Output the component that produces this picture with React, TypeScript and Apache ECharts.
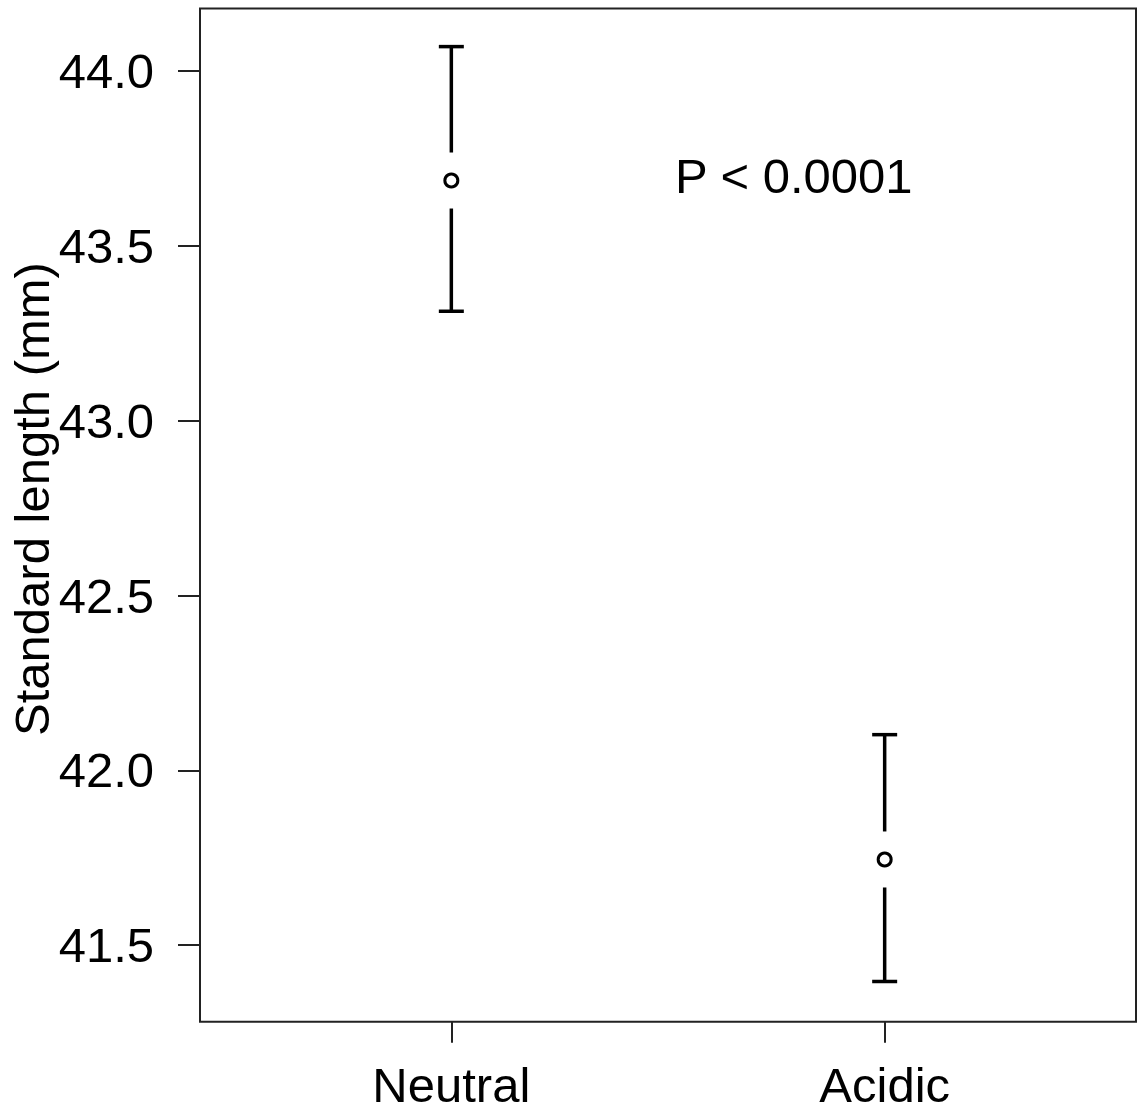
import React, { useEffect, useRef } from "react";
import * as echarts from "echarts";

const categories = ["Neutral", "Acidic"];
const positions = [1, 2];
const means = [43.687, 41.745];
const lowers = [43.313, 41.396];
const uppers = [44.07, 42.102];
const yTicks = [41.5, 42.0, 42.5, 43.0, 43.5, 44.0];
const annotation = "P < 0.0001";
const yTitle = "Standard length (mm)";

const FONT = "'Liberation Sans', Arial, Helvetica, sans-serif";

export default function App() {
  const ref = useRef<HTMLDivElement>(null);
  useEffect(() => {
    if (!ref.current) return;
    const chart = echarts.init(ref.current, undefined, { renderer: "svg" });
    const barData = positions.map((p, i) => [p, means[i], lowers[i], uppers[i]]);
    const meanData = positions.map((p, i) => [p, means[i]]);
    chart.setOption({
      animation: false,
      backgroundColor: "#fff",
      grid: {
        left: 200,
        top: 8.5,
        right: 3,
        bottom: 90.3,
        show: true,
        borderColor: "#222",
        borderWidth: 2,
        backgroundColor: "transparent",
      },
      xAxis: {
        type: "value",
        min: 0.42,
        max: 2.58,
        splitLine: { show: false },
        axisLine: { show: false },
        axisTick: {
          show: true,
          customValues: positions,
          length: 21,
          lineStyle: { color: "#222", width: 2 },
        },
        axisLabel: {
          show: true,
          customValues: positions,
          margin: 39,
          fontSize: 49,
          fontFamily: FONT,
          color: "#000",
          formatter: (v: number) => categories[positions.indexOf(Math.round(v))] ?? "",
        },
      },
      yAxis: {
        type: "value",
        min: 41.281,
        max: 44.179,
        splitLine: { show: false },
        axisLine: { show: false },
        axisTick: {
          show: true,
          customValues: yTicks,
          length: 22,
          lineStyle: { color: "#222", width: 2 },
        },
        axisLabel: {
          show: true,
          customValues: yTicks,
          margin: 46,
          fontSize: 49,
          fontFamily: FONT,
          color: "#000",
          formatter: (v: number) => v.toFixed(1),
        },
      },
      series: [
        {
          type: "custom",
          data: barData,
          renderItem: (params: any, api: any) => {
            const x = api.value(0);
            const m = api.coord([x, api.value(1)]);
            const lo = api.coord([x, api.value(2)]);
            const hi = api.coord([x, api.value(3)]);
            const gap = 28;
            const cap = 12.5;
            const style = { stroke: "#000", lineWidth: 3.5 };
            return {
              type: "group",
              children: [
                { type: "line", shape: { x1: hi[0], y1: hi[1], x2: m[0], y2: m[1] - gap }, style },
                { type: "line", shape: { x1: m[0], y1: m[1] + gap, x2: lo[0], y2: lo[1] }, style },
                { type: "line", shape: { x1: hi[0] - cap, y1: hi[1], x2: hi[0] + cap, y2: hi[1] }, style },
                { type: "line", shape: { x1: lo[0] - cap, y1: lo[1], x2: lo[0] + cap, y2: lo[1] }, style },
              ],
            };
          },
        },
        {
          type: "scatter",
          data: meanData,
          symbol: "circle",
          symbolSize: 13,
          itemStyle: { color: "#fff", borderColor: "#000", borderWidth: 3, opacity: 1 },
        },
      ],
      graphic: [
        {
          type: "text",
          left: 675,
          top: 176 - 25,
          style: {
            text: annotation,
            fontSize: 49,
            fontFamily: FONT,
            fill: "#000",
          },
        },
        {
          type: "text",
          x: 32,
          y: 499,
          rotation: Math.PI / 2,
          style: {
            text: yTitle,
            fontSize: 49,
            fontFamily: FONT,
            fill: "#000",
            align: "center",
            verticalAlign: "middle",
          },
        },
      ],
    });
    return () => chart.dispose();
  }, []);
  return <div ref={ref} style={{ width: 1139, height: 1112, position: "absolute", left: 0, top: 0 }} />;
}
